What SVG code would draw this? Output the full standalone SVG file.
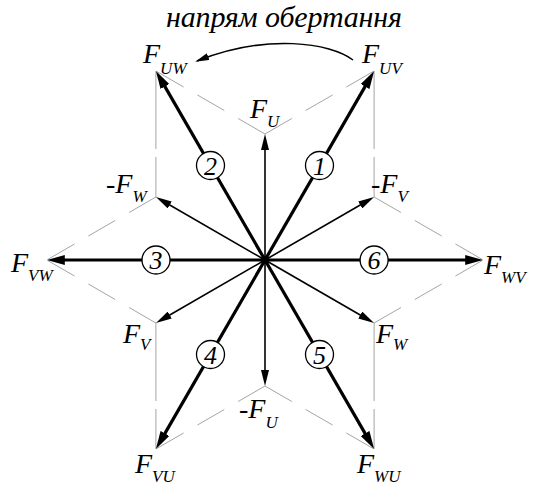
<svg xmlns="http://www.w3.org/2000/svg" width="539" height="487" viewBox="0 0 539 487">
<style>
.g{stroke:#9a9a9a;stroke-width:0.9;fill:none}
.gd{stroke-dasharray:31 16}
.gv{stroke-dasharray:78 8}
.big{stroke:#000;stroke-width:3.2;fill:none;marker-end:url(#ahBig)}
.sm{stroke:#000;stroke-width:1.6;fill:none;marker-end:url(#ahSm)}
.lb{font-family:"Liberation Serif","Times New Roman",serif;font-style:italic;fill:#000}
.F{font-size:28px}
.s{font-size:17px}
.num circle{fill:#fff;stroke:#000;stroke-width:1.3}
.num text{font-family:"Liberation Serif","Times New Roman",serif;font-style:italic;font-size:26px;text-anchor:middle;fill:#000}
</style>
<defs>
<marker id="ahBig" markerUnits="userSpaceOnUse" viewBox="0 0 18 10" markerWidth="18" markerHeight="10" refX="10" refY="5" orient="auto"><path d="M0,0 L18,5 L0,10 Z" fill="#000"/></marker>
<marker id="ahSm" markerUnits="userSpaceOnUse" viewBox="0 0 16 8" markerWidth="16" markerHeight="8" refX="10" refY="4" orient="auto"><path d="M0,0 L16,4 L0,8 Z" fill="#000"/></marker>
<marker id="ahRot" markerUnits="userSpaceOnUse" viewBox="0 0 14 7" markerWidth="14" markerHeight="7" refX="12" refY="3.5" orient="auto"><path d="M0,0 L14,3.5 L0,7 Z" fill="#000"/></marker>
</defs>
<rect width="539" height="487" fill="#fff"/>

<g id="guides">
<line class="g gd" x1="265" y1="134" x2="374.1" y2="71"/>
<line class="g gd" x1="265" y1="134" x2="155.9" y2="71"/>
<line class="g gd" x1="155.9" y1="197" x2="46.8" y2="260"/>
<line class="g gd" x1="155.9" y1="323" x2="46.8" y2="260"/>
<line class="g gd" x1="374.1" y1="197" x2="483.2" y2="260"/>
<line class="g gd" x1="374.1" y1="323" x2="483.2" y2="260"/>
<line class="g gd" x1="265" y1="386" x2="155.9" y2="449"/>
<line class="g gd" x1="265" y1="386" x2="374.1" y2="449"/>
<line class="g gv" x1="155.9" y1="71" x2="155.9" y2="197"/>
<line class="g gv" x1="374.1" y1="71" x2="374.1" y2="197"/>
<line class="g gv" x1="155.9" y1="323" x2="155.9" y2="449"/>
<line class="g gv" x1="374.1" y1="323" x2="374.1" y2="449"/>
</g>

<g id="connectors">
<line class="sm" x1="265" y1="260" x2="265" y2="140"/>
<line class="sm" x1="265" y1="260" x2="265" y2="380"/>
<line class="sm" x1="265" y1="260" x2="161.1" y2="200"/>
<line class="sm" x1="265" y1="260" x2="368.9" y2="200"/>
<line class="sm" x1="265" y1="260" x2="161.1" y2="320"/>
<line class="sm" x1="265" y1="260" x2="368.9" y2="320"/>
<line class="big" x1="265" y1="260" x2="370.1" y2="77.9"/>
<line class="big" x1="265" y1="260" x2="159.9" y2="77.9"/>
<line class="big" x1="265" y1="260" x2="54.8" y2="260"/>
<line class="big" x1="265" y1="260" x2="475.2" y2="260"/>
<line class="big" x1="265" y1="260" x2="159.9" y2="442.1"/>
<line class="big" x1="265" y1="260" x2="370.1" y2="442.1"/>
<circle cx="265" cy="260" r="3.8" fill="#000"/>
<path d="M353,60 C330,43 268,33 197,61" fill="none" stroke="#000" stroke-width="1.5" marker-end="url(#ahRot)"/>
</g>

<g id="n1" class="num"><circle cx="319.5" cy="165.5" r="14"/><text x="319.5" y="174.5">1</text></g>
<g id="n2" class="num"><circle cx="210.5" cy="165.5" r="14"/><text x="210.5" y="174.5">2</text></g>
<g id="n3" class="num"><circle cx="156" cy="260" r="14"/><text x="156" y="269">3</text></g>
<g id="n4" class="num"><circle cx="210.5" cy="354.5" r="14"/><text x="210.5" y="363.5">4</text></g>
<g id="n5" class="num"><circle cx="319.5" cy="354.5" r="14"/><text x="319.5" y="363.5">5</text></g>
<g id="n6" class="num"><circle cx="374.1" cy="260" r="14"/><text x="374.1" y="269">6</text></g>

<g id="title"><text class="lb" x="166" y="27" font-size="30" textLength="236" lengthAdjust="spacing">напрям обертання</text></g>

<g id="lUW"><text class="lb F" x="143" y="63">F<tspan class="s" dy="11">UW</tspan></text></g>
<g id="lUV"><text class="lb F" x="362" y="63">F<tspan class="s" dy="11">UV</tspan></text></g>
<g id="lU"><text class="lb F" x="250" y="118">F<tspan class="s" dy="9">U</tspan></text></g>
<g id="lmW"><text class="lb F" x="106" y="193">-F<tspan class="s" dy="9">W</tspan></text></g>
<g id="lmV"><text class="lb F" x="371" y="193">-F<tspan class="s" dy="9">V</tspan></text></g>
<g id="lVW"><text class="lb F" x="11" y="272">F<tspan class="s" dy="9">VW</tspan></text></g>
<g id="lWV"><text class="lb F" x="484" y="274">F<tspan class="s" dy="9">WV</tspan></text></g>
<g id="lV"><text class="lb F" x="123" y="343">F<tspan class="s" dy="7">V</tspan></text></g>
<g id="lW"><text class="lb F" x="376" y="343">F<tspan class="s" dy="7">W</tspan></text></g>
<g id="lmU"><text class="lb F" x="239" y="418">-F<tspan class="s" dy="10">U</tspan></text></g>
<g id="lVU"><text class="lb F" x="135" y="473">F<tspan class="s" dy="9">VU</tspan></text></g>
<g id="lWU"><text class="lb F" x="357" y="473">F<tspan class="s" dy="9">WU</tspan></text></g>
</svg>
